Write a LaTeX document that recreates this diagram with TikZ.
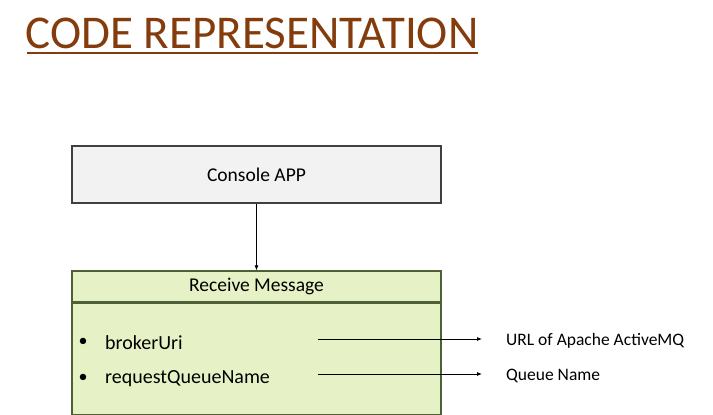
\documentclass[tikz,border=0pt]{standalone}
\usepackage{fontspec}
\setmainfont{Carlito}
\usepackage{tikz}
\usetikzlibrary{arrows.meta}
\usetikzlibrary{positioning}
\definecolor{titlebrown}{HTML}{843C0C}
\definecolor{appfill}{HTML}{F2F2F2}
\definecolor{appdraw}{HTML}{404040}
\definecolor{limefill}{HTML}{E6F2C6}
\definecolor{limedraw}{HTML}{4F5F38}
\tikzset{
  appbox/.style={draw=appdraw, fill=appfill, line width=1.2pt, minimum width=369pt, minimum height=57pt, font=\fontsize{19.5}{23}\selectfont},
  hdrbox/.style={draw=limedraw, fill=limefill, line width=1.2pt, minimum width=369pt, minimum height=31pt, font=\fontsize{19.5}{23}\selectfont},
  bodybox/.style={draw=limedraw, fill=limefill, line width=1.2pt, minimum width=369pt, minimum height=111pt, anchor=north},
  itemtext/.style={anchor=west, inner sep=0pt, font=\fontsize{20}{24}\selectfont},
  sidelabel/.style={anchor=west, inner sep=0pt, font=\fontsize{17.5}{21}\selectfont},
  pointer/.style={-{Latex[length=5pt,width=4pt]}, line width=0.8pt}
}
\begin{document}
\begin{tikzpicture}[x=1pt, y=-1pt]
    \useasboundingbox (0,0) rectangle (713,415);
    % 标题
    \node[titlebrown, inner sep=0pt, anchor=base, font=\fontsize{47}{56}\selectfont] (title) at (252,48) {CODE REPRESENTATION};
    \draw[titlebrown, line width=2pt] (27,53) -- (478,53);

    % 方框
    \node[appbox] (app) at (256.5,174.5) {Console APP};
    \node[hdrbox] (recv) at (256.5,286.5) {Receive Message};
    \node[bodybox] (body) at (recv.south) {};

    % 连线
    \draw[pointer] (app.south) -- (recv.north);

    % 成员
    \node[inner sep=0pt, font=\fontsize{18}{20}\selectfont] (dot1) at (83,342) {\textbullet};
    \node[itemtext] (broker) at (105,343) {brokerUri};
    \node[inner sep=0pt, font=\fontsize{18}{20}\selectfont] (dot2) at (83,378) {\textbullet};
    \node[itemtext] (queue) at (105,379) {requestQueueName};

    % 右侧说明
    \node[sidelabel] (url) at (506,341) {URL of Apache ActiveMQ};
    \node[sidelabel] (qname) at (506,376) {Queue Name};
    \coordinate (from1) at (318,339);
    \coordinate (from2) at (318,374);
    \draw[pointer, shorten >=24pt] (from1) -- (from1 -| url.west);
    \draw[pointer, shorten >=24pt] (from2) -- (from2 -| qname.west);
\end{tikzpicture}
\end{document}
